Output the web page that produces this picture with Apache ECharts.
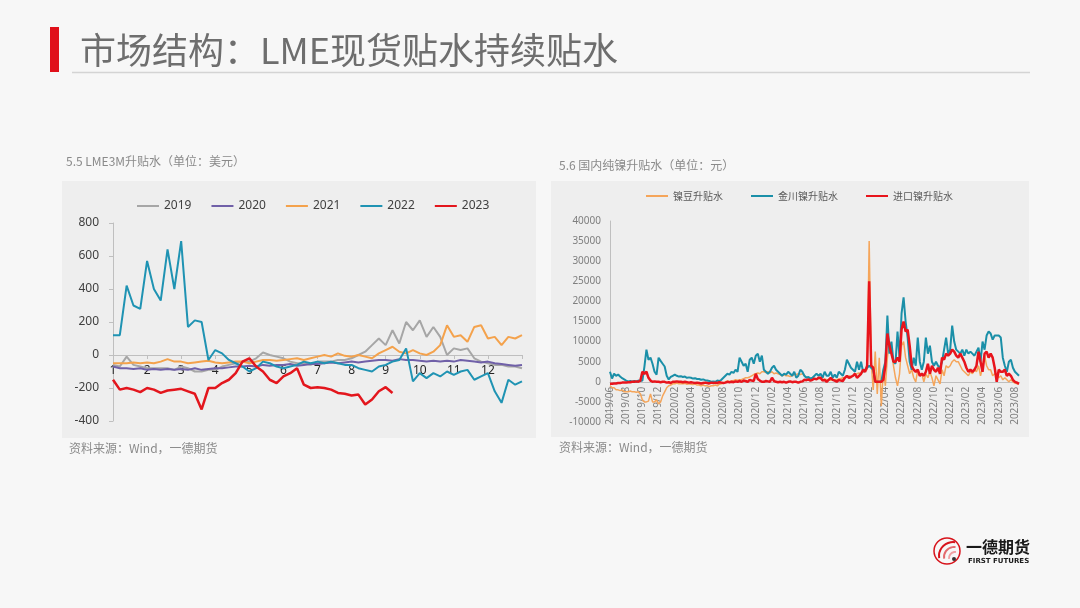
<!DOCTYPE html>
<html>
<head>
<meta charset="utf-8">
<script src="https://cdn.jsdelivr.net/npm/echarts/dist/echarts.min.js"></script>
<style>
  html, body { margin: 0; padding: 0; background: #f7f7f7; }
  #wrap { position: relative; width: 1080px; height: 608px; }
  .panel { position: absolute; background: #eeeeee; }
  #chart { position: absolute; left: 0; top: 0; width: 1080px; height: 608px; }
</style>
</head>
<body>
<div id="wrap">
  <div class="panel" style="left:62px;top:181px;width:474px;height:257px"></div>
  <div class="panel" style="left:551px;top:181px;width:478px;height:256px"></div>
  <div id="chart"></div>
</div>
<script>
// left chart: LME 3M spread by year, 5 points per month
const monthLabels = ['1', '2', '3', '4', '5', '6', '7', '8', '9', '10', '11', '12']
const y2019 = [
  -60, -70, -10, -60, -70, -80, -80, -80, -80, -90, -70, -80, -100, -100, -90,
  -90, -70, -60, -50, -40, -40, -20, 15, 0, -10, -20, -40, -50, -50, -60,
  -40, -40, -40, -30, -30, -20, 0, 20, 60, 100, 60, 150, 70, 200, 150,
  210, 110, 170, 110, 0, 40, 30, 40, -20, -40, -50, -60, -60, -70, -70, -80,
]
const y2020 = [
  -70, -80, -80, -85, -80, -90, -85, -90, -85, -90, -85, -90, -80, -90, -85,
  -80, -80, -75, -70, -70, -65, -70, -60, -65, -60, -60, -55, -65, -60, -55,
  -55, -50, -45, -50, -45, -40, -45, -40, -35, -30, -30, -35, -25, -30, -30,
  -35, -40, -35, -40, -35, -40, -30, -35, -40, -45, -40, -50, -55, -60, -65, -60,
]
const y2021 = [
  -50, -50, -50, -45, -50, -45, -50, -40, -25, -40, -40, -50, -45, -40, -35,
  -45, -50, -45, -40, -40, -50, -40, -30, -30, -35, -30, -25, -20, -30, -20,
  -10, 0, -10, 10, -5, -10, 0, -10, -20, 10, 30, 50, 20, 10, 30,
  10, 0, 20, 60, 180, 110, 120, 80, 170, 180, 100, 110, 60, 110, 100, 120,
]
const y2022 = [
  120, 120, 420, 300, 280, 570, 400, 330, 640, 400, 690, 170, 210, 200, -30,
  30, 10, -30, -50, -70, -100, -80, -40, -50, -70, -80, -70, -60, -40, -50,
  -40, -50, -40, -50, -60, -60, -80, -90, -100, -70, -60, -40, -30, 40, -160,
  -110, -140, -110, -130, -100, -120, -100, -90, -150, -130, -110, -220, -290, -150, -180, -160,
]
const y2023 = [
  -150, -210, -200, -210, -225, -200, -210, -230, -215, -210, -205, -220, -235, -330, -200,
  -200, -170, -150, -110, -40, -20, -70, -100, -150, -170, -130, -110, -80, -180, -200,
  -195, -200, -210, -230, -235, -245, -240, -300, -270, -220, -195, -230,
]

// right chart: domestic nickel premiums, 4 points per month from 2019/06
const xLabels = [
  '2019/06', '2019/08', '2019/10', '2019/12', '2020/02', '2020/04', '2020/06', '2020/08', '2020/10',
  '2020/12', '2021/02', '2021/04', '2021/06', '2021/08', '2021/10', '2021/12', '2022/02', '2022/04',
  '2022/06', '2022/08', '2022/10', '2022/12', '2023/02', '2023/04', '2023/06', '2023/08',
]
const ndData = [
  -1000, -1500, -1500, -2000, -2000, -2200, -2000, -2500, -2500, -2500, -2300, -2500,
  -2500, -2600, -2500, -3000, -4500, -5000, -5000, -4800, -3000, -5000, -5000, -4500,
  -5500, -5000, -3500, -2500, -1500, -1000, -800, -500, -500, -300, -500, -500,
  -500, -400, -600, -500, -600, -700, -500, -800, -800, -1000, -800, -1000,
  -1000, -1200, -1000, -1000, -800, -1000, -600, -500, -300, 0, 200, 0,
  200, 300, 500, 400, 500, 600, 800, 1000, 1000, 1200, 1500, 1800,
  2000, 2200, 2000, 2500, 2500, 2300, 2500, 2200, 2500, 2000, 2200, 2000,
  1800, 1500, 1800, 1500, 1500, 1300, 1500, 1800, 1800, 2000, 1800, 2000,
  1500, 1200, 1000, 900, 800, 700, 600, 800, 600, 500, 700, 500,
  500, 400, 600, 500, 500, 700, 800, 1000, 1000, 1200, 1500, 1300,
  1500, 1800, 2000, 2200, 2000, 2500, 3000, 3000, 35000, 5000, -2000, 7500,
  -3000, 6000, -6000, 3000, -1000, 6000, 10000, 8000, 4000, 1000, -1000, 2000,
  9000, 10000, 6000, 4000, 2000, 3000, 1000, 0, 3000, 1500, 2000, 0,
  2000, 1000, 2500, 1000, -1000, 1500, 500, -500, 3000, 1500, 4000, 3500,
  4000, 5000, 5500, 5000, 5000, 4000, 3000, 2500, 2000, 1500, 2500, 2000,
  3000, 2500, 4000, 1500, 3500, 6500, 4000, 3000, 3000, 1500, 2000, 1500,
  1000, 1500, 500, 1000, 500, 0, 500, 0, -300, -500, -500,
]
const jcData = [
  2500, 800, 2000, 1500, 1800, 1300, 900, 600, 300, 100, 200, 0,
  200, 0, 300, 200, 300, 3800, 8000, 5500, 6000, 4500, 2500, 1800,
  6000, 5200, 4500, 3800, 1500, 600, 1200, 1500, 1800, 1500, 1300, 1400,
  1200, 1300, 1000, 1100, 1000, 800, 900, 700, 700, 500, 600, 400,
  300, 200, 0, 100, 0, 300, 200, 500, 1000, 1500, 2000, 1800,
  2500, 2200, 3000, 2500, 6000, 5000, 4000, 4500, 2500, 5500, 6000, 4500,
  6500, 7000, 5000, 6500, 3000, 2500, 2000, 2500, 3500, 4000, 3000, 2500,
  2000, 1500, 2000, 1800, 2500, 2000, 1500, 2500, 1000, 1500, 3000, 2500,
  1500, 1000, 1200, 800, 1000, 1500, 2000, 1500, 2000, 1000, 2500, 1500,
  1500, 2500, 1000, 1800, 1000, 2500, 2000, 1500, 3000, 5500, 4500, 3500,
  3000, 2500, 5000, 3000, 5000, 2500, 3000, 3500, 4000, 3500, 3000, 0,
  0, 0, 0, 3000, 5000, 16500, 7000, 10000, 5000, 4500, 12500, 6000,
  17000, 21000, 15000, 11000, 5000, 3000, 6000, 4000, 11000, 5000, 3000, 5000,
  11000, 7000, 9000, 5000, 4000, 5000, 4000, 3500, 5000, 8000, 11000, 7000,
  8000, 14000, 10000, 8000, 7500, 7000, 8000, 6500, 8000, 7000, 7500, 7000,
  6500, 7500, 8500, 5000, 10000, 8000, 11500, 12500, 12000, 10500, 11500, 11500,
  11500, 11000, 6000, 4000, 2500, 5000, 5500, 3500, 2500, 2000, 1500,
]
const jkData = [
  -500, -500, -400, -400, -300, -300, -200, -200, -200, -100, -100, 0,
  0, 100, 0, 300, 2500, 2000, 2500, 1000, 300, 0, 100, 0,
  0, -100, 0, 0, -200, -100, -300, 0, 0, 100, 0, 0,
  -100, 0, -100, -200, -100, -200, -300, -200, -300, -400, -300, -200,
  -300, -400, -200, -300, -200, -300, -100, -200, -300, -200, 0, -100,
  0, -100, 100, 0, 200, 0, 300, 200, 0, 500, 300, 200,
  2000, 700, 300, 0, 0, 200, 100, 0, 1000, 200, 0, -100,
  0, -100, 0, -200, 0, 100, -100, 0, 0, -200, 0, 100,
  500, 400, 600, 300, 500, 800, 600, 1000, 1000, 300, 500, 0,
  500, 1000, 500, 300, 0, 500, 300, 200, 1000, 1500, 1000, 1200,
  1500, 2000, 1000, 1500, 2000, 3000, 2500, 4000, 25000, 4000, 3500, 0,
  0, 0, 0, 500, 4000, 12000, 9000, 7000, 5000, 5000, 6000, 5000,
  13000, 15000, 12500, 13000, 9000, 4000, 3000, 2500, 3000, 1500, 2000, 1500,
  2500, 4500, 2000, 4000, 3000, 2500, 3500, 2000, 6000, 5500, 7000, 6500,
  7000, 8000, 7500, 6500, 6000, 7000, 6000, 5000, 3500, 2500, 3000, 2500,
  3000, 4000, 7500, 5000, 2500, 7000, 7500, 6000, 7000, 6000, 3500, 0,
  3000, 2500, 2500, 3000, 1500, 2000, 1500, 500, 0, -200, -500,
]

const cats1 = y2019.map((v, i) => String(i))
const cats2 = jcData.map((v, i) => String(i))

const leftLine = (name, data, color, width) => ({
  name,
  type: 'line',
  xAxisIndex: 0,
  yAxisIndex: 0,
  data,
  symbol: 'none',
  color,
  lineStyle: { width, color },
})
const rightLine = (name, data, color, width) => ({
  name,
  type: 'line',
  xAxisIndex: 1,
  yAxisIndex: 1,
  data,
  symbol: 'none',
  color,
  lineStyle: { width, color },
})

const axisGray = '#bfbfbf'

const option = {
  animation: false,
  textStyle: { fontFamily: '"Noto Sans", "Noto Sans CJK SC", sans-serif' },
  legend: [
    {
      data: ['2019', '2020', '2021', '2022', '2023'],
      left: 132,
      top: 195,
      icon: 'rect',
      itemWidth: 22,
      itemHeight: 2,
      itemGap: 20,
      textStyle: { fontSize: 12, color: '#404040' },
    },
    {
      data: ['镍豆升贴水', '金川镍升贴水', '进口镍升贴水'],
      left: 641,
      top: 186,
      icon: 'rect',
      itemWidth: 22,
      itemHeight: 2,
      itemGap: 28,
      textStyle: { fontSize: 10, color: '#595959', fontFamily: '"Noto Sans CJK SC", sans-serif' },
    },
  ],
  grid: [
    { left: 113, top: 223, width: 409, height: 198 },
    { left: 610, top: 221, width: 409, height: 201 },
  ],
  xAxis: [
    {
      type: 'category',
      gridIndex: 0,
      data: cats1,
      boundaryGap: false,
      offset: -66,
      axisLine: { onZero: false, lineStyle: { color: axisGray } },
      axisTick: { interval: 4, length: 4, lineStyle: { color: axisGray } },
      axisLabel: {
        interval: 4,
        fontSize: 12,
        color: '#262626',
        margin: 10,
        formatter: (v, idx) => monthLabels[idx / 5] || '',
      },
    },
    {
      type: 'category',
      gridIndex: 1,
      data: cats2,
      boundaryGap: false,
      offset: -40.2,
      axisLine: { onZero: false, lineStyle: { color: axisGray } },
      axisTick: { show: false },
      axisLabel: {
        interval: 7,
        rotate: 90,
        fontSize: 10,
        color: '#7f7f7f',
        margin: 5,
        formatter: (v, idx) => xLabels[idx / 8] || '',
      },
    },
  ],
  yAxis: [
    {
      type: 'value',
      gridIndex: 0,
      min: -400,
      max: 800,
      interval: 200,
      axisLine: { show: true, lineStyle: { color: axisGray } },
      axisTick: { show: true, length: 4, lineStyle: { color: axisGray } },
      splitLine: { show: false },
      axisLabel: { fontSize: 12, color: '#404040', margin: 14 },
    },
    {
      type: 'value',
      gridIndex: 1,
      min: -10000,
      max: 40000,
      interval: 5000,
      axisLine: { show: true, lineStyle: { color: axisGray } },
      axisTick: { show: false },
      splitLine: { show: false },
      axisLabel: { fontSize: 10, color: '#7f7f7f', margin: 9, formatter: (v) => String(v) },
    },
  ],
  series: [
    leftLine('2019', y2019, '#a6a6a6', 2),
    leftLine('2020', y2020, '#7060a8', 2),
    leftLine('2021', y2021, '#f4a24c', 2),
    leftLine('2022', y2022, '#1f93b3', 2),
    leftLine('2023', y2023, '#e3161d', 2.5),
    rightLine('镍豆升贴水', ndData, '#f5a55a', 1.5),
    rightLine('金川镍升贴水', jcData, '#1a8fa8', 2),
    rightLine('进口镍升贴水', jkData, '#e8141c', 2.5),
  ],
  graphic: [
    { type: 'rect', shape: { x: 50, y: 27, width: 9, height: 45 }, style: { fill: '#e0101a' } },
    { type: 'line', shape: { x1: 72, y1: 72.5, x2: 1030, y2: 72.5 }, style: { stroke: '#d4d4d4', lineWidth: 1.5 } },
    {
      type: 'text',
      x: 80,
      y: 50,
      style: {
        text: '市场结构：LME现货贴水持续贴水',
        font: '36px "Noto Sans CJK SC"',
        fill: '#6e6e6e',
        verticalAlign: 'middle',
      },
    },
    {
      type: 'text',
      x: 66,
      y: 161,
      style: { text: '5.5 LME3M升贴水（单位：美元）', font: '12px "Noto Sans CJK SC"', fill: '#8a8a8a', verticalAlign: 'middle' },
    },
    {
      type: 'text',
      x: 559,
      y: 165,
      style: { text: '5.6 国内纯镍升贴水（单位：元）', font: '12px "Noto Sans CJK SC"', fill: '#8a8a8a', verticalAlign: 'middle' },
    },
    {
      type: 'text',
      x: 69,
      y: 448,
      style: { text: '资料来源：Wind，一德期货', font: '12px "Noto Sans CJK SC"', fill: '#8a8a8a', verticalAlign: 'middle' },
    },
    {
      type: 'text',
      x: 559,
      y: 447,
      style: { text: '资料来源：Wind，一德期货', font: '12px "Noto Sans CJK SC"', fill: '#8a8a8a', verticalAlign: 'middle' },
    },
    // logo
    { type: 'circle', shape: { cx: 947, cy: 551, r: 13 }, style: { fill: 'none', stroke: '#d7141c', lineWidth: 1.5 } },
    { type: 'arc', shape: { cx: 953, cy: 556, r: 14, startAngle: Math.PI * 0.95, endAngle: Math.PI * 1.55 }, style: { stroke: '#d7141c', lineWidth: 2, fill: 'none' } },
    { type: 'arc', shape: { cx: 954, cy: 557, r: 10, startAngle: Math.PI * 0.95, endAngle: Math.PI * 1.55 }, style: { stroke: '#e36a6e', lineWidth: 2, fill: 'none' } },
    { type: 'arc', shape: { cx: 955, cy: 558, r: 6, startAngle: Math.PI * 0.95, endAngle: Math.PI * 1.55 }, style: { stroke: '#f0a0a3', lineWidth: 2, fill: 'none' } },
    { type: 'circle', shape: { cx: 954, cy: 559, r: 2 }, style: { fill: '#333' } },
    {
      type: 'text',
      x: 966,
      y: 547,
      style: { text: '一德期货', font: 'bold 16px "Noto Sans CJK SC"', fill: '#1a1a1a', verticalAlign: 'middle' },
    },
    {
      type: 'text',
      x: 968,
      y: 561,
      style: { text: 'FIRST FUTURES', font: 'bold 7px "DejaVu Sans"', fill: '#1a1a1a', verticalAlign: 'middle' },
    },
  ],
}

const chart = echarts.init(document.getElementById('chart'))
chart.setOption(option)
</script>
</body>
</html>
